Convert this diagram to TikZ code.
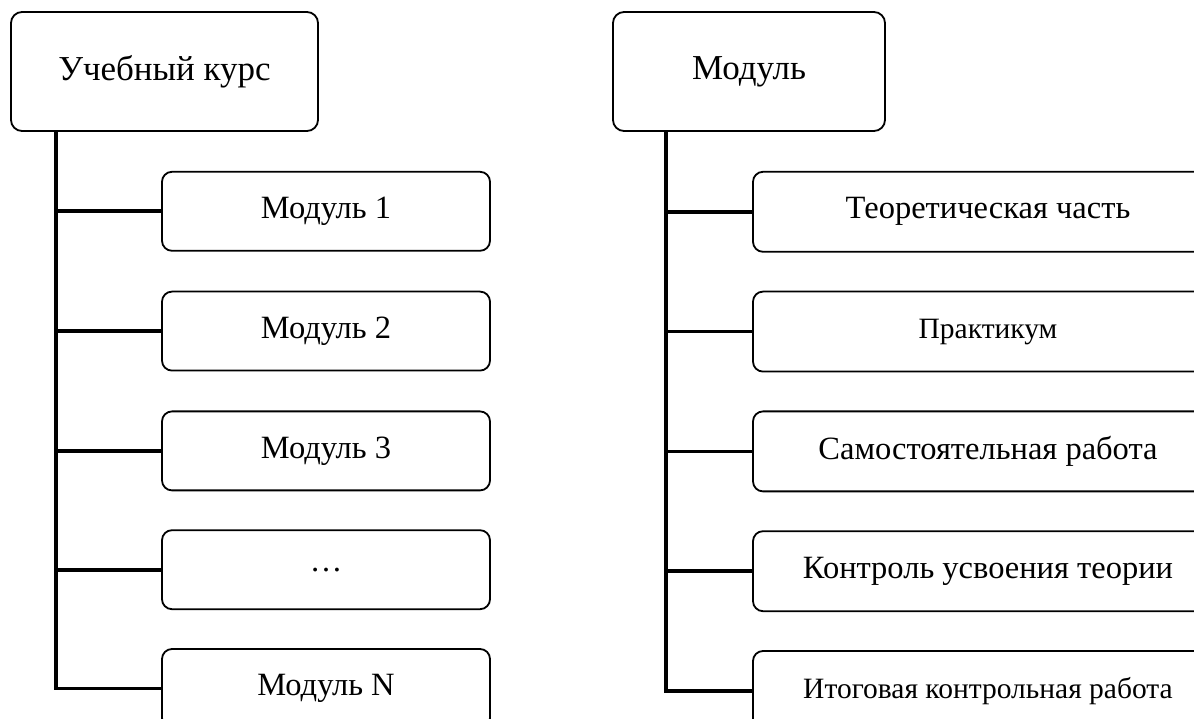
\documentclass[tikz,border=0pt]{standalone}
\usepackage{fontspec}
\setmainfont{Liberation Serif}
\usetikzlibrary{positioning,calc}

\begin{document}
\begin{tikzpicture}[
  x=1pt,y=1pt,
  root/.style={draw,line width=1.8pt,rounded corners=11pt,minimum width=307pt,minimum height=119pt,
    font=\fontsize{35}{40}\selectfont},
  sub/.style={draw,line width=1.8pt,rounded corners=10pt,minimum width=328pt,minimum height=79pt,
    font=\fontsize{32.5}{38}\selectfont},
  part/.style={sub,minimum width=470pt,minimum height=80pt},
  small/.style={font=\fontsize{29.5}{34}\selectfont},
  conn/.style={line width=3.6pt}
]
\useasboundingbox (0,0) rectangle (1194,718);
\clip (0,0) rectangle (1194,718);

% ---- left tree : course ----
\node[root] (kurs) at (164.5,646.5) {Учебный курс};
\node[sub,anchor=north west] (m1) at ($(kurs.south west)+(151,-39)$) {Модуль 1};
\node[sub,below=39pt of m1] (m2) {Модуль 2};
\node[sub,below=39pt of m2] (m3) {Модуль 3};
\node[sub,below=38pt of m3] (m4) {\dots};
\node[sub,below=38pt of m4] (m5) {Модуль N};
\coordinate (tk) at ($(kurs.south west)+(46,0)$);

% ---- right tree : module ----
\node[root,minimum width=272pt] (mod) at (749,646.5) {Модуль};
\node[part,anchor=north west] (p1) at ($(mod.south west)+(140,-39)$) {Теоретическая часть};
\node[part,small,below=38pt of p1] (p2) {Практикум};
\node[part,below=38pt of p2] (p3) {Самостоятельная работа};
\node[part,below=38pt of p3] (p4) {Контроль усвоения теории};
\node[part,small,below=38pt of p4] (p5) {Итоговая контрольная работа};
\coordinate (tm) at ($(mod.south west)+(54,0)$);

% wires
\foreach \c in {m1,m2,m3,m4,m5}
  \draw[conn] (tk) |- (\c.west);
\foreach \c in {p1,p2,p3,p4,p5}
  \draw[conn] (tm) |- (\c.west);
\end{tikzpicture}
\end{document}
